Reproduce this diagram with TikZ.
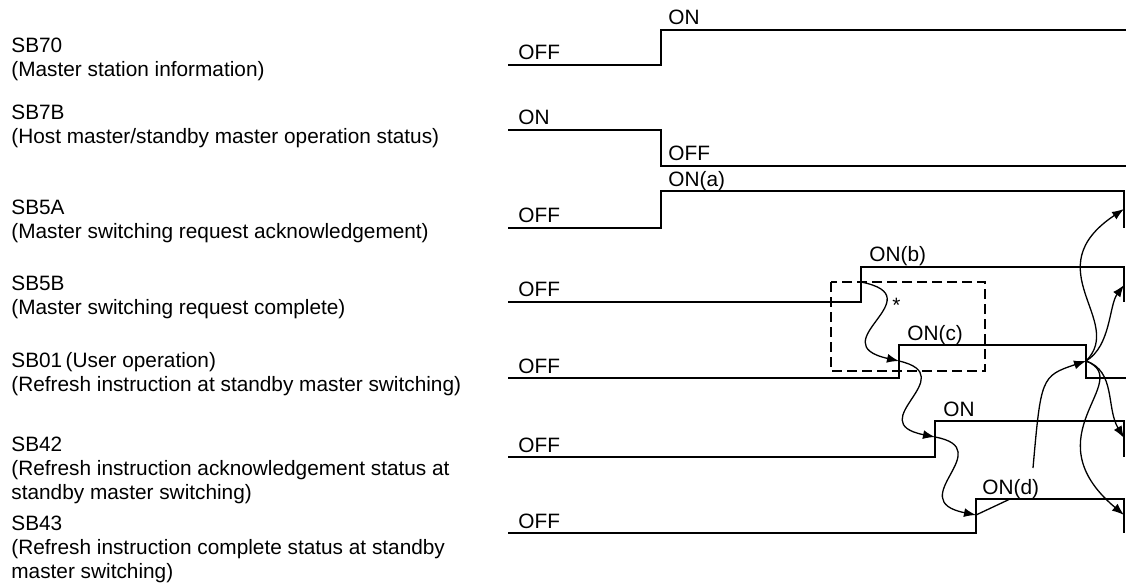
\documentclass[tikz,border=0pt]{standalone}
\usepackage{fontspec}
\setmainfont{Liberation Sans}
\usetikzlibrary{arrows.meta}

\begin{document}
\begin{tikzpicture}[x=0.5pt,y=-0.5pt,
    sig/.style={line width=0.75pt},
    siglbl/.style={anchor=base west,align=left,inner sep=0pt,
                   font=\fontsize{10.4}{12}\selectfont},
    lvl/.style={anchor=base west,inner sep=0pt,font=\fontsize{10.4}{12}\selectfont},
    arr/.style={-{Latex[length=6pt,width=4.5pt]},line width=0.65pt},
    dbox/.style={line width=1.1pt,dash pattern=on 5pt off 2.5pt}
  ]
  \useasboundingbox (0,0) rectangle (1126,583);

  \node[siglbl] (n70) at (11,76.5)  {SB70\\(Master station information)};
  \node[siglbl] (n7b) at (11,143.5) {SB7B\\(Host master/standby master operation status)};
  \node[siglbl] (n5a) at (11,238.5) {SB5A\\(Master switching request acknowledgement)};
  \node[siglbl] (n5b) at (11,314.5) {SB5B\\(Master switching request complete)};
  \node[siglbl] (n01) at (11,391.5) {SB01\,(User operation)\\(Refresh instruction at standby master switching)};
  \node[siglbl] (n42) at (11,499.5) {SB42\\(Refresh instruction acknowledgement status at\\standby master switching)};
  \node[siglbl] (n43) at (11,578.5) {SB43\\(Refresh instruction complete status at standby\\master switching)};

  % waveforms
  \draw[sig] (508,65) -- (661,65) -- (661,30) -- (1126,30);
  \draw[sig] (508,130) -- (661,130) -- (661,166) -- (1126,166);
  \draw[sig] (508,228) -- (661,228) -- (661,191) -- (1124,191) -- (1124,228);
  \draw[sig] (508,302) -- (861,302) -- (861,267) -- (1124,267) -- (1124,302);
  \draw[sig] (508,378) -- (899,378) -- (899,345) -- (1086,345) -- (1086,378) -- (1126,378);
  \draw[sig] (508,457) -- (935,457) -- (935,421) -- (1124,421) -- (1124,457);
  \draw[sig] (508,533) -- (976,533) -- (976,499) -- (1124,499) -- (1124,533);

  \node[lvl] (off70) at (518,60)  {OFF};
  \node[lvl] (on70)  at (668,25)  {ON};
  \node[lvl] (on7b)  at (518,125) {ON};
  \node[lvl] (off7b) at (668,161) {OFF};
  \node[lvl] (off5a) at (518,223) {OFF};
  \node[lvl] (ona)   at (668,186.5) {ON(a)};
  \node[lvl] (off5b) at (518,297) {OFF};
  \node[lvl] (onb)   at (869,262) {ON(b)};
  \node[lvl] (off01) at (518,373) {OFF};
  \node[lvl] (onc)   at (907,340) {ON(c)};
  \node[lvl] (off42) at (518,452) {OFF};
  \node[lvl] (on42)  at (943,416) {ON};
  \node[lvl] (off43) at (518,528) {OFF};
  \node[lvl] (ond)   at (982,494) {ON(d)};
  \node[lvl] (star)  at (892,313) {*};

  \draw[dbox] (831,282) rectangle (985,371);

  \coordinate (b-up)  at (861,282);
  \coordinate (c-up)  at (899,361);
  \coordinate (e-up)  at (935,437);
  \coordinate (d-up)  at (976,515);
  \coordinate (d-src) at (1033,468);
  \coordinate (c-dn)  at (1086,361);
  \coordinate (a-dn)  at (1124,209);
  \coordinate (b-dn)  at (1124,285);
  \coordinate (e-dn)  at (1124,438);
  \coordinate (f-dn)  at (1124,515);

  \draw[arr] (b-up) .. controls +(75,15) and +(-80,-18) .. (c-up);
  \draw[arr] (c-up) .. controls +(65,15) and +(-75,-15) .. (e-up);
  \draw[arr] (e-up) .. controls +(65,12) and +(-75,-15) .. (d-up);
  \draw[line width=0.65pt] (ond.south) -- (d-up);
  \draw[arr] (d-src) .. controls +(8,-90) and +(-45,15) .. (c-dn);
  \draw[arr] (c-dn) .. controls +(30,10) and +(-18,-30) .. (e-dn);
  \draw[arr] (c-dn) .. controls +(50,20) and +(-95,-80) .. (f-dn);
  \draw[arr] (c-dn) .. controls +(40,-40) and +(-90,60) .. (a-dn);
  \draw[arr] (c-dn) .. controls +(25,-15) and +(-15,20) .. (b-dn);
\end{tikzpicture}
\end{document}
